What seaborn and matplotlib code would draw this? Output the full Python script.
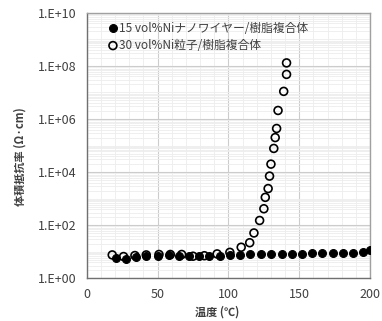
import numpy as np
import pandas as pd
import seaborn as sns
import matplotlib.pyplot as plt
from matplotlib.ticker import LogLocator, MultipleLocator, NullFormatter

# %%
# 15 vol% Ni nanowire / resin composite (filled)
temp_wire = [21, 28, 35, 42, 50, 58, 65, 72, 79, 86, 94, 101, 108, 115, 123,
             130, 138, 145, 152, 159, 166, 174, 181, 188, 195, 200]
rho_wire = [5.6, 5.2, 6.3, 6.8, 7.2, 7.4, 7.2, 7.1, 7.2, 7.1, 7.2, 7.6, 7.6,
            7.9, 8.1, 8.1, 8.1, 8.1, 8.1, 9.1, 9.1, 9.1, 9.1, 9.1, 9.5, 11.7]

# 30 vol% Ni particle / resin composite (open)
temp_part = [18, 26, 34, 42, 51, 59, 67, 75, 83, 92, 101, 109, 115, 118, 122,
             125, 126, 128, 129, 130, 132, 133, 134, 135, 139, 141, 141]
rho_part = [7.6, 6.6, 7.2, 7.6, 7.9, 7.9, 7.9, 6.8, 7.1, 8.3, 9.5, 14.8, 21.9,
            51, 151, 417, 1120, 2400, 7080, 2.0e4, 7.8e4, 2.0e5, 4.4e5,
            2.1e6, 1.1e7, 4.8e7, 1.3e8]

label_wire = "15 vol%Niナノワイヤー/樹脂複合体"
label_part = "30 vol%Ni粒子/樹脂複合体"

y_ticks = [1e0, 1e2, 1e4, 1e6, 1e8, 1e10]
y_ticklabels = ["1.E+00", "1.E+02", "1.E+04", "1.E+06", "1.E+08", "1.E+10"]
x_ticks = [0, 50, 100, 150, 200]

df_wire = pd.DataFrame({"temp": temp_wire, "rho": rho_wire})
df_part = pd.DataFrame({"temp": temp_part, "rho": rho_part})

# %%
sns.set_style("white")
plt.rcParams['font.family'] = ['Noto Sans CJK JP', 'DejaVu Sans']

fig = plt.figure(figsize=(3.82, 3.21), dpi=100)
ax = fig.add_axes([0.227, 0.133, 0.742, 0.827])

sns.scatterplot(data=df_wire, x="temp", y="rho", ax=ax, marker="o", s=32,
                color="black", edgecolor="black", linewidth=0.8,
                label=label_wire, zorder=3)
sns.scatterplot(data=df_part, x="temp", y="rho", ax=ax, marker="o", s=32,
                facecolor="none", edgecolor="black", linewidth=1.2,
                label=label_part, zorder=4)

ax.set_yscale("log")
ax.set_xlim(0, 200)
ax.set_ylim(1, 1e10)

ax.set_xticks(x_ticks)
ax.xaxis.set_minor_locator(MultipleLocator(10))
ax.set_yticks(y_ticks)
ax.set_yticklabels(y_ticklabels)
ax.yaxis.set_minor_locator(LogLocator(base=10, subs=np.arange(1, 10), numticks=50))
ax.yaxis.set_minor_formatter(NullFormatter())

ax.grid(True, which="major", color="#cccccc", linewidth=0.8)
ax.grid(True, which="minor", color="#ededed", linewidth=0.6)
ax.set_axisbelow(True)

for side in ["top", "right"]:
    ax.spines[side].set_color("#a0a0a0")
for side in ["left", "bottom"]:
    ax.spines[side].set_color("#707070")
for sp in ax.spines.values():
    sp.set_linewidth(1.0)

ax.tick_params(axis="both", which="major", direction="out", length=4,
               width=1, color="#707070", labelsize=9, labelcolor="#404040", pad=3)
ax.tick_params(axis="both", which="minor", length=0)

ax.set_xlabel("温度 (℃)", fontsize=8, fontweight="bold", color="#404040")
ax.set_ylabel("体積抵抗率 (Ω·cm)", fontsize=8, fontweight="bold", color="#404040")
ax.xaxis.set_label_coords(0.46, -0.103)
ax.yaxis.set_label_coords(-0.214, 0.457)

ax.legend(loc="upper left", bbox_to_anchor=(0.055, 0.985), frameon=False,
          fontsize=8.5, handletextpad=0.05, handlelength=1.0,
          borderaxespad=0.0, labelspacing=0.35, labelcolor="#404040")

plt.savefig("out.png", dpi=100)
